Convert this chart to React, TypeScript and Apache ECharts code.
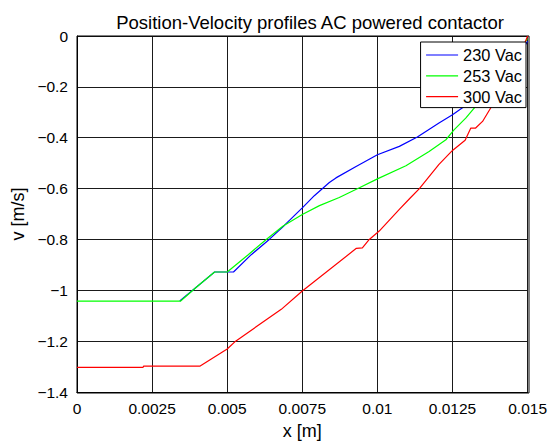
import React, { useEffect, useRef } from "react";
import * as echarts from "echarts";

const seriesNames = ["230 Vac", "253 Vac", "300 Vac"];
const seriesColors = ["#0000ff", "#00ff00", "#ff0000"];

const blue230: [number, number][] = [
  [0.00342, -1.042], [0.004, -0.985], [0.00458, -0.928], [0.00521, -0.928],
  [0.0058, -0.86], [0.0064, -0.8], [0.0069, -0.745], [0.0075, -0.676],
  [0.0079, -0.628], [0.0084, -0.576], [0.00862, -0.558], [0.00929, -0.513],
  [0.01, -0.467], [0.01073, -0.434], [0.01133, -0.397], [0.01205, -0.342],
  [0.0125, -0.31], [0.01289, -0.277], [0.0135, -0.22], [0.014, -0.165],
  [0.0145, -0.1], [0.0149, -0.04], [0.015, -0.02],
];

const green253: [number, number][] = [
  [0, -1.043], [0.00344, -1.043], [0.004, -0.985], [0.00458, -0.928],
  [0.005, -0.928], [0.0057, -0.86], [0.0063, -0.8], [0.00685, -0.748],
  [0.0075, -0.702], [0.00807, -0.667], [0.00873, -0.635], [0.0094, -0.597],
  [0.01, -0.562], [0.01095, -0.51], [0.01172, -0.454], [0.01228, -0.408],
  [0.01255, -0.369], [0.01294, -0.323], [0.01327, -0.277], [0.0137, -0.22],
  [0.0141, -0.16], [0.0145, -0.1], [0.015, -0.01],
];

const red300: [number, number][] = [
  [0, -1.303], [0.0022, -1.303], [0.00222, -1.298], [0.0041, -1.298],
  [0.005, -1.231], [0.00528, -1.2], [0.0068, -1.075], [0.0075, -1.003],
  [0.0093, -0.835], [0.0095, -0.833], [0.00973, -0.8], [0.01006, -0.767],
  [0.01073, -0.682], [0.0111, -0.636], [0.01139, -0.601], [0.01205, -0.505],
  [0.0125, -0.45], [0.01292, -0.41], [0.01311, -0.362], [0.01327, -0.362],
  [0.0135, -0.336], [0.0138, -0.277], [0.0142, -0.2], [0.0146, -0.12],
  [0.015, 0],
];

const seriesData = [blue230, green253, red300];

const FONT = "'Liberation Sans', Arial, Helvetica, sans-serif";

export default function App() {
  const ref = useRef<HTMLDivElement>(null);
  useEffect(() => {
    if (!ref.current) return;
    const chart = echarts.init(ref.current, null, { renderer: "svg" });
    chart.setOption({
      animation: false,
      backgroundColor: "#ffffff",
      textStyle: { fontFamily: FONT, color: "#000" },
      title: {
        text: "Position-Velocity profiles AC powered contactor",
        left: 305,
        top: 8,
        textAlign: "center",
        textStyle: { fontFamily: FONT, fontSize: 18.5, fontWeight: "normal", color: "#000" },
      },
      legend: {
        orient: "vertical",
        right: 24,
        top: 42,
        data: seriesNames,
        icon: "rect",
        itemWidth: 32,
        itemHeight: 1.2,
        itemGap: 3.8,
        padding: [4.5, 4, 2.5, 5.5],
        backgroundColor: "#ffffff",
        borderColor: "#000",
        borderWidth: 1,
        borderRadius: 0,
        textStyle: { fontFamily: FONT, fontSize: 16.4, color: "#000", lineHeight: 17 },
      },
      grid: { left: 77, right: 21, top: 36, bottom: 52, containLabel: false },
      xAxis: {
        type: "value",
        min: 0,
        max: 0.015,
        interval: 0.0025,
        name: "x [m]",
        nameLocation: "middle",
        nameGap: 30,
        nameTextStyle: { fontFamily: FONT, fontSize: 18, color: "#000" },
        axisLine: { show: true, onZero: false, lineStyle: { color: "#000", width: 1 } },
        axisTick: { show: false },
        axisLabel: {
          margin: 8,
          fontFamily: FONT,
          fontSize: 15.5,
          color: "#000",
          formatter: (v: number) => (v === 0 ? "0" : String(+v.toFixed(4))),
        },
        splitLine: { show: true, lineStyle: { color: "#1a1a1a", width: 1 } },
      },
      yAxis: {
        type: "value",
        min: -1.4,
        max: 0,
        interval: 0.2,
        name: "v [m/s]",
        nameLocation: "middle",
        nameGap: 43,
        nameRotate: 90,
        nameTextStyle: { fontFamily: FONT, fontSize: 18, color: "#000" },
        axisLine: { show: true, onZero: false, lineStyle: { color: "#000", width: 1 } },
        axisTick: { show: false },
        axisLabel: {
          margin: 9,
          fontFamily: FONT,
          fontSize: 15.5,
          color: "#000",
          formatter: (v: number) => {
            const r = +v.toFixed(1);
            return r === 0 ? "0" : String(r).replace("-", "\u2212");
          },
        },
        splitLine: { show: true, lineStyle: { color: "#1a1a1a", width: 1 } },
      },
      series: seriesNames.map((name, i) => ({
        name,
        type: "line",
        data: seriesData[i],
        showSymbol: false,
        symbol: "none",
        lineStyle: { color: seriesColors[i], width: 1.2 },
        itemStyle: { color: seriesColors[i] },
        clip: true,
      })),
      graphic: [
        {
          type: "rect",
          shape: { x: 77, y: 36, width: 452, height: 357 },
          style: { fill: "none", stroke: "#000", lineWidth: 1 },
          silent: true,
          z: 1,
        },
      ],
    });
    return () => chart.dispose();
  }, []);
  return (
    <div
      ref={ref}
      style={{ position: "absolute", left: 0, top: 0, width: 550, height: 445 }}
    />
  );
}
